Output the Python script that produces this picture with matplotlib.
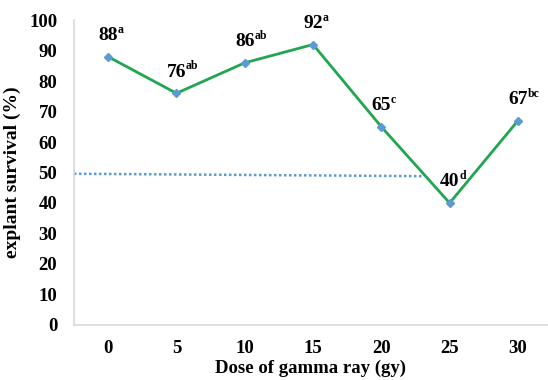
import matplotlib
matplotlib.use("Agg")
import matplotlib.pyplot as plt

doses = ["0", "5", "10", "15", "20", "25", "30"]
survival = [88, 76, 86, 92, 65, 40, 67]
letters = ["a", "ab", "ab", "a", "c", "d", "bc"]
ref_line = [49.6, 48.8]
yticks = [0, 10, 20, 30, 40, 50, 60, 70, 80, 90, 100]

plt.rcParams['font.family'] = ['Liberation Serif', 'DejaVu Serif']
plt.rcParams['font.weight'] = 'bold'

fig = plt.figure(figsize=(5.48, 3.8), dpi=100)
ax = fig.add_axes([0.135, 0.145, 0.865, 0.802])
x = list(range(len(doses)))
ax.plot([-0.5, 4.6], ref_line, linestyle=(0, (1, 1)), color="#5b9bd5", linewidth=1.8)
ax.plot(x, survival, color="#1fa64f", linewidth=2, marker="D", markersize=4,
        markerfacecolor="#5b9bd5", markeredgecolor="#5b9bd5", zorder=3)
for xi, v, l in zip(x, survival, letters):
    ax.annotate(f"{v}", (xi, v), xytext=(0, 9), textcoords="offset points",
                ha="center", va="bottom", fontsize=14, fontweight="bold")
    ax.annotate(l, (xi, v), xytext=(6.8, 15), textcoords="offset points",
                ha="left", va="bottom", fontsize=8.5, fontweight="bold")

ax.set_xlim(-0.5, 6.44)
ax.set_ylim(0, 100)
ax.set_xticks(x)
ax.set_xticklabels(doses)
ax.set_yticks(yticks)
ax.tick_params(length=0, labelsize=13.5)
ax.tick_params(axis="y", pad=12)
ax.tick_params(axis="x", pad=11)
for s in ["top", "right"]:
    ax.spines[s].set_visible(False)
for s in ["left", "bottom"]:
    ax.spines[s].set_color("#d9d9d9")
    ax.spines[s].set_linewidth(1.2)
ax.set_xlabel("Dose of gamma ray (gy)", fontsize=13.5, fontweight="bold", labelpad=2)
ax.set_ylabel("explant survival (%)", fontsize=14, fontweight="bold", labelpad=6)
fig.savefig("out.png", dpi=100)
